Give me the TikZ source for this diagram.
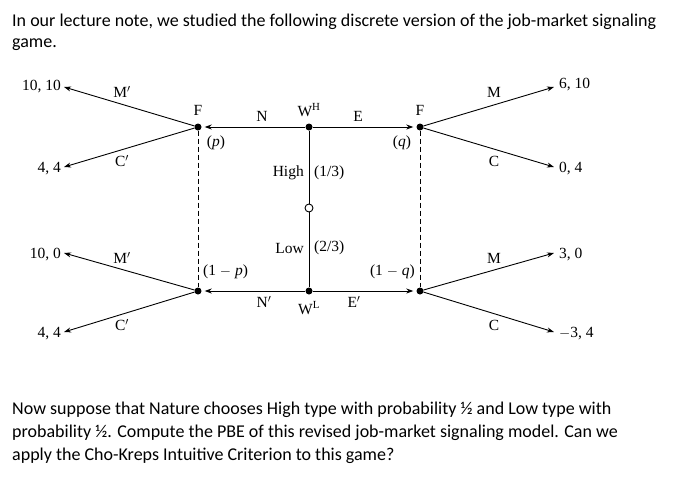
\documentclass[tikz,border=0pt]{standalone}
\usepackage{fontspec}
\setmainfont{Liberation Serif}
\newfontfamily\calfont{Carlito}
\usetikzlibrary{arrows.meta}
\begin{document}
\begin{tikzpicture}[x=1pt,y=-1pt,
  dot/.style={circle,fill,inner sep=0pt,minimum size=7pt},
  odot/.style={circle,draw,fill=white,inner sep=0pt,minimum size=8pt,line width=0.9pt},
  lab/.style={font=\fontsize{15.5}{17}\selectfont,inner sep=1pt},
  edge/.style={line width=0.9pt},
  arr/.style={line width=0.9pt,-{Stealth[length=7pt,width=5pt]}},
  txt/.style={font=\calfont\fontsize{18}{23}\selectfont,anchor=west,inner sep=0pt}]
\useasboundingbox (0,0) rectangle (678,477);
\node[txt] at (12,22) {In our lecture note, we studied the following discrete version of the job-market signaling};
\node[txt] at (12,45) {game.};
\node[txt] at (12,410) {Now suppose that Nature chooses High type with probability ½ and Low type with};
\node[txt] at (12,433) {probability ½. Compute the PBE of this revised job-market signaling model. Can we};
\node[txt] at (12,456) {apply the Cho-Kreps Intuitive Criterion to this game?};
% nodes
\node[dot] (FL) at (198,127) {};
\node[dot] (WH) at (309,127) {};
\node[dot] (FR) at (420,127) {};
\node[odot] (C) at (309,208) {};
\node[dot] (WL) at (309,291) {};
\node[dot] (GL) at (198,291) {};
\node[dot] (GR) at (420,291) {};
\coordinate (t1) at (64,87); \coordinate (t2) at (64,167);
\coordinate (t3) at (64,253); \coordinate (t4) at (64,332);
\coordinate (r1) at (554,87); \coordinate (r2) at (554,167);
\coordinate (r3) at (554,253); \coordinate (r4) at (554,332);
\draw[edge] (C) -- (WH); \draw[edge] (C) -- (WL);
\draw[arr,shorten >=3pt] (WH) -- (FL);
\draw[arr,shorten >=3pt] (WH) -- (FR);
\draw[arr,shorten >=3pt] (WL) -- (GL);
\draw[arr,shorten >=3pt] (WL) -- (GR);
\draw[edge,dash pattern=on 5pt off 3pt] (FL) -- (GL);
\draw[edge,dash pattern=on 5pt off 3pt] (FR) -- (GR);
\foreach \a/\b in {FL/t1,FL/t2,GL/t3,GL/t4,FR/r1,FR/r2,GR/r3,GR/r4} \draw[arr] (\a) -- (\b);
% payoffs
\node[lab,anchor=east] at (62,87) {10, 10};
\node[lab,anchor=east] at (62,169) {4, 4};
\node[lab,anchor=east] at (62,255) {10, 0};
\node[lab,anchor=east] at (62,334) {4, 4};
\node[lab,anchor=west] at (558,85) {6, 10};
\node[lab,anchor=west] at (558,169) {0, 4};
\node[lab,anchor=west] at (558,255) {3, 0};
\node[lab,anchor=west] at (558,334) {$-$3, 4};
% action labels
\node[lab] at (122,92) {M$'$}; \node[lab] at (122,161) {C$'$};
\node[lab] at (122,258) {M$'$}; \node[lab] at (122,325) {C$'$};
\node[lab] at (494,92) {M}; \node[lab] at (494,161) {C};
\node[lab] at (494,258) {M}; \node[lab] at (494,325) {C};
\node[lab] at (198,110) {F}; \node[lab] at (420,110) {F};
\node[lab] at (309,110) {W\textsuperscript{H}};
\node[lab] at (262,116) {N}; \node[lab] at (358,116) {E};
\node[lab] at (216,143) {(\textit{p})}; \node[lab] at (402,143) {(\textit{q})};
\node[lab,anchor=east] at (305,173) {High}; \node[lab,anchor=west] at (313,173) {(1/3)};
\node[lab,anchor=east] at (305,248) {Low}; \node[lab,anchor=west] at (313,248) {(2/3)};
\node[lab,anchor=west] at (202,272) {(1 $-$ \textit{p})};
\node[lab,anchor=east] at (416,272) {(1 $-$ \textit{q})};
\node[lab] at (264,302) {N$'$}; \node[lab] at (354,302) {E$'$};
\node[lab] at (309,308) {W\textsuperscript{L}};
\end{tikzpicture}
\end{document}
